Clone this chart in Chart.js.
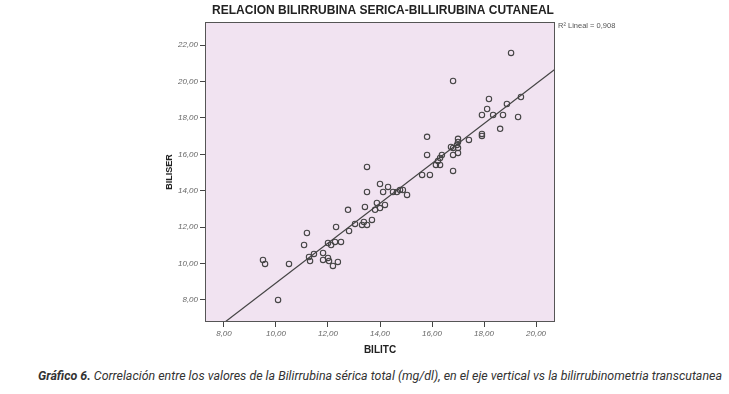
<!DOCTYPE html>
<html>
<head>
<meta charset="utf-8">
<script src="https://cdn.jsdelivr.net/npm/chart.js@4.4.0/dist/chart.umd.min.js"></script>
<style>
  html, body { margin: 0; padding: 0; background: #fff; }
  #wrap { position: relative; width: 729px; height: 360px; }
  #caption {
    position: absolute; left: 38px; top: 369px;
    font-family: Roboto, sans-serif; font-style: italic; font-size: 12px;
    color: #333; white-space: nowrap; transform-origin: 0 0;
  }
</style>
</head>
<body>
<div id="wrap"><canvas id="chart" width="729" height="360"></canvas></div>
<div id="caption"><b>Gráfico 6.</b> Correlación entre los valores de la Bilirrubina sérica total (mg/dl), en el eje vertical vs la bilirrubinometria transcutanea</div>
<script>
// BILITC (x) and BILISER (y)
const biliTc = [10.08, 9.50, 9.58, 10.50, 11.08, 11.19, 11.27, 11.31, 11.46, 11.81,
  11.81, 12.00, 12.04, 12.19, 12.38, 12.00, 12.12, 12.27, 12.50, 12.31,
  12.81, 12.77, 13.04, 13.31, 13.38, 13.50, 13.69, 13.42, 13.50, 13.50,
  13.81, 14.00, 13.88, 14.19, 14.00, 14.12, 14.31, 14.50, 14.65, 14.77,
  14.88, 15.04, 15.62, 15.92, 15.81, 15.81, 16.15, 16.31, 16.23, 16.31,
  16.38, 16.81, 17.00, 16.81, 16.73, 16.81, 17.00, 16.96, 17.00, 17.00,
  17.42, 17.92, 17.92, 18.62, 17.92, 18.35, 18.73, 19.31, 18.12, 18.19,
  18.88, 19.42, 16.81, 19.04];
const biliSer = [8.00, 10.20, 9.98, 9.98, 11.02, 11.68, 10.36, 10.14, 10.53, 10.58,
  10.20, 10.31, 10.14, 9.87, 10.09, 11.13, 11.02, 11.19, 11.19, 12.01,
  11.79, 12.95, 12.18, 12.12, 12.29, 12.12, 12.40, 13.11, 13.93, 15.31,
  12.95, 13.05, 13.33, 13.22, 14.37, 13.93, 14.21, 13.93, 13.93, 14.04,
  14.04, 13.77, 14.87, 14.87, 15.97, 16.96, 15.42, 15.42, 15.64, 15.80,
  15.97, 15.97, 16.08, 15.09, 16.41, 16.35, 16.35, 16.52, 16.68, 16.85,
  16.79, 17.12, 17.01, 17.40, 18.16, 18.16, 18.16, 18.05, 18.49, 19.04,
  18.77, 19.15, 20.03, 21.57];

// fit line end points (as drawn in the picture)
const fitX = [8.04, 20.73];
const fitY = [6.79, 20.68];
const rSquared = '0,908';

const xTicks = [8, 10, 12, 14, 16, 18, 20];
const yTicks = [8, 10, 12, 14, 16, 18, 20, 22];

const chartTitle = 'RELACION BILIRRUBINA SERICA-BILLIRUBINA CUTANEAL';

function fmt(v) {
  return v.toFixed(2).replace('.', ',');
}

const framePlugin = {
  id: 'frame',
  beforeDatasetsDraw(chart) {
    const { ctx, chartArea: a } = chart;
    ctx.save();
    ctx.fillStyle = '#f1e3f1';
    ctx.fillRect(a.left, a.top, a.right - a.left, a.bottom - a.top);
    ctx.restore();
  },
  afterDraw(chart) {
    const { ctx, chartArea: a } = chart;
    ctx.save();
    ctx.strokeStyle = '#555';
    ctx.lineWidth = 1;
    ctx.strokeRect(a.left + 0.5, a.top + 0.5, a.right - a.left - 1, a.bottom - a.top - 1);

    ctx.fillStyle = '#222';
    ctx.font = 'bold 12px "Liberation Sans", Arial, sans-serif';
    ctx.textAlign = 'center';
    ctx.textBaseline = 'middle';
    ctx.fillText(chartTitle, 383, 11);

    ctx.fillStyle = '#555';
    ctx.font = '7.5px "Liberation Sans", Arial, sans-serif';
    ctx.textAlign = 'left';
    ctx.fillText('R² Lineal = ' + rSquared, a.right + 3, 26);
    ctx.restore();
  }
};

const tickFont = { family: '"Liberation Sans", Arial, sans-serif', size: 8, style: 'italic' };
const titleFont = { family: '"Liberation Sans", Arial, sans-serif', size: 10, weight: 'bold' };

const ctx = document.getElementById('chart').getContext('2d');
const chart = new Chart(ctx, {
  type: 'scatter',
  data: {
    datasets: [{
      type: 'line',
      data: fitX.map((x, i) => ({ x: x, y: fitY[i] })),
      borderColor: '#444',
      borderWidth: 1.2,
      pointRadius: 0,
      fill: false
    }, {
      data: biliTc.map((x, i) => ({ x: x, y: biliSer[i] })),
      pointRadius: 2.7,
      pointBorderWidth: 1.1,
      pointBorderColor: '#444',
      pointBackgroundColor: 'rgba(0,0,0,0)'
    }]
  },
  options: {
    responsive: false,
    animation: false,
    layout: { padding: { left: 160, top: 22, right: 174, bottom: 0 } },
    plugins: { legend: { display: false }, tooltip: { enabled: false } },
    scales: {
      x: {
        type: 'linear',
        min: 7.27, max: 20.73,
        afterBuildTicks: s => { s.ticks = xTicks.map(v => ({ value: v })); },
        afterFit: s => { s.height = 38; },
        ticks: { callback: v => fmt(v), color: '#666', font: tickFont, padding: 2, maxRotation: 0 },
        grid: { drawOnChartArea: false, drawTicks: true, tickLength: 5, color: '#444' },
        border: { display: false },
        title: { display: true, text: 'BILITC', color: '#222', font: titleFont }
      },
      y: {
        type: 'linear',
        min: 6.79, max: 23.27,
        afterBuildTicks: s => { s.ticks = yTicks.map(v => ({ value: v })); },
        afterFit: s => { s.width = 45; },
        ticks: { callback: v => fmt(v), color: '#666', font: tickFont, padding: 2 },
        grid: { drawOnChartArea: false, drawTicks: true, tickLength: 5, color: '#444' },
        border: { display: false },
        title: { display: true, text: 'BILISER', color: '#222', font: { family: titleFont.family, size: 9, weight: 'bold' } }
      }
    }
  },
  plugins: [framePlugin]
});

// squeeze the caption to the width it has in the picture
const cap = document.getElementById('caption');
const w = cap.getBoundingClientRect().width;
cap.style.transform = 'scaleX(' + (684 / w) + ')';
</script>
</body>
</html>
